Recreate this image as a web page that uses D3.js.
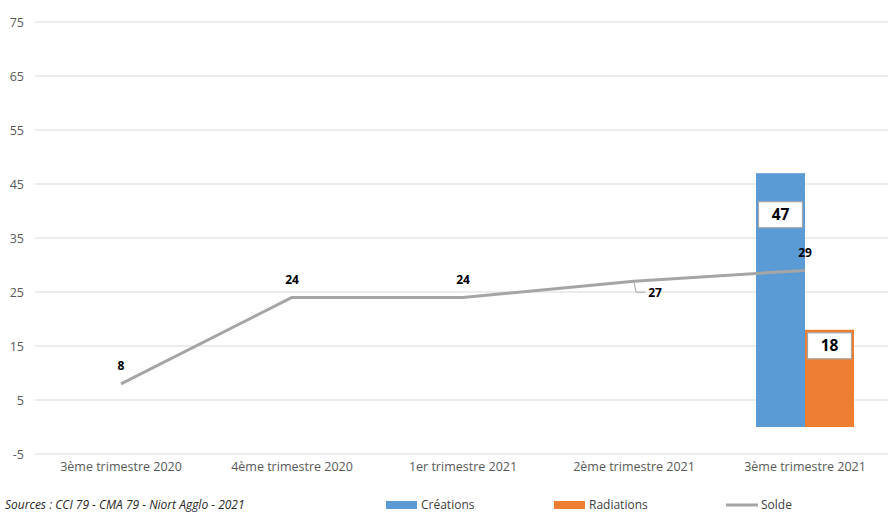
<!DOCTYPE html>
<html><head><meta charset="utf-8">
<script src="https://cdn.jsdelivr.net/npm/d3@7"></script>
<style>body{margin:0;background:#fff}svg{display:block}</style>
</head><body>
<svg id="c" width="888" height="513"></svg>
<script>
const categories = ["3ème trimestre 2020","4ème trimestre 2020","1er trimestre 2021","2ème trimestre 2021","3ème trimestre 2021"];
const creations = [null,null,null,null,47];
const radiations = [null,null,null,null,18];
const solde = [8,24,24,27,29];
const yTicks = [-5,5,15,25,35,45,55,65,75];
const sourceText = "Sources : CCI 79 - CMA 79 - Niort Agglo - 2021";

const svg = d3.select("#c");
const font = "'Open Sans', 'Liberation Sans', Arial, sans-serif";
const x = d3.scaleBand().domain(categories).range([35.5, 890.5]).padding(0);
const y = d3.scaleLinear().domain([-5,75]).range([454,22]);

// grid
svg.append("g").selectAll("line").data(yTicks).join("line")
  .attr("x1",35).attr("x2",888).attr("y1",d=>y(d)).attr("y2",d=>y(d))
  .attr("stroke","#d9d9d9").attr("stroke-width",1);

// y axis labels
const yAxis = d3.axisLeft(y).tickValues(yTicks).tickSize(0).tickPadding(0).tickFormat(d=>String(d));
const ya = svg.append("g").attr("transform","translate(24,0)").call(yAxis);
ya.select(".domain").remove();
ya.selectAll("text").attr("font-family",font).attr("font-size",12.5).attr("fill","#595959");

// x axis labels
const xAxis = d3.axisBottom(x).tickSize(0).tickPadding(0);
const xa = svg.append("g").attr("transform","translate(0,462)").call(xAxis);
xa.select(".domain").remove();
xa.selectAll("text").attr("font-family",font).attr("font-size",12.5).attr("fill","#595959");

// bars
const barW = 49;
const series = [
  {name:"Créations", vals:creations, color:"#5b9bd5", off:-barW, labOff:41.5},
  {name:"Radiations", vals:radiations, color:"#ed7d31", off:0, labOff:16}
];
series.forEach(s=>{
  const data = categories.map((c,i)=>({c, v:s.vals[i]})).filter(d=>d.v!=null);
  const cx = d=>x(d.c)+x.bandwidth()/2;
  svg.append("g").selectAll("rect").data(data).join("rect")
    .attr("x",d=>cx(d)+s.off).attr("width",barW)
    .attr("y",d=>y(d.v)).attr("height",d=>y(0)-y(d.v))
    .attr("fill",s.color);
  const g = svg.append("g").selectAll("g").data(data).join("g")
    .attr("transform",d=>`translate(${cx(d)+s.off+barW/2},${y(d.v)+s.labOff})`);
  g.append("rect").attr("x",-22).attr("y",-13).attr("width",44).attr("height",26)
    .attr("fill","#fff").attr("stroke","#a6a6a6").attr("stroke-width",1.2);
  g.append("text").attr("text-anchor","middle").attr("dy","0.36em")
    .attr("font-family",font).attr("font-size",15.5).attr("font-weight","bold").attr("fill","#000")
    .text(d=>d.v);
});

// line
const pts = categories.map((c,i)=>({c,v:solde[i],i}));
const lx = d=>x(d.c)+x.bandwidth()/2;
svg.append("path").datum(pts)
  .attr("d", d3.line().x(lx).y(d=>y(d.v)))
  .attr("fill","none").attr("stroke","#a5a5a5").attr("stroke-width",3).attr("stroke-linejoin","round");

// line labels
pts.forEach(d=>{
  if (d.i===3){
    const px = lx(d), py = y(d.v);
    svg.append("path").attr("d",`M${px},${py+1}L${px+2},${py+11}L${px+11},${py+11}`)
      .attr("fill","none").attr("stroke","#a6a6a6").attr("stroke-width",1);
    svg.append("text").attr("x",px+21).attr("y",py+12).attr("dy","0.35em").attr("text-anchor","middle")
      .attr("font-family",font).attr("font-size",12).attr("font-weight","bold").text(d.v);
  } else {
    svg.append("text").attr("x",lx(d)).attr("y",y(d.v)-18).attr("dy","0.35em").attr("text-anchor","middle")
      .attr("font-family",font).attr("font-size",12).attr("font-weight","bold").text(d.v);
  }
});

// legend
const leg = [
  {name:"Créations", type:"rect", color:"#5b9bd5", x:386},
  {name:"Radiations", type:"rect", color:"#ed7d31", x:554},
  {name:"Solde", type:"line", color:"#a5a5a5", x:726}
];
leg.forEach(l=>{
  if (l.type==="rect") svg.append("rect").attr("x",l.x).attr("y",501).attr("width",31).attr("height",8).attr("fill",l.color);
  else svg.append("line").attr("x1",l.x).attr("x2",l.x+32).attr("y1",505).attr("y2",505).attr("stroke",l.color).attr("stroke-width",3);
  svg.append("text").attr("x",l.x+35).attr("y",505).attr("dy","0.35em")
    .attr("font-family",font).attr("font-size",12).attr("fill","#404040").text(l.name);
});

svg.append("text").attr("x",5).attr("y",509).attr("font-family",font).attr("font-size",12)
  .attr("font-style","italic").attr("fill","#262626").text(sourceText);
</script>
</body></html>
